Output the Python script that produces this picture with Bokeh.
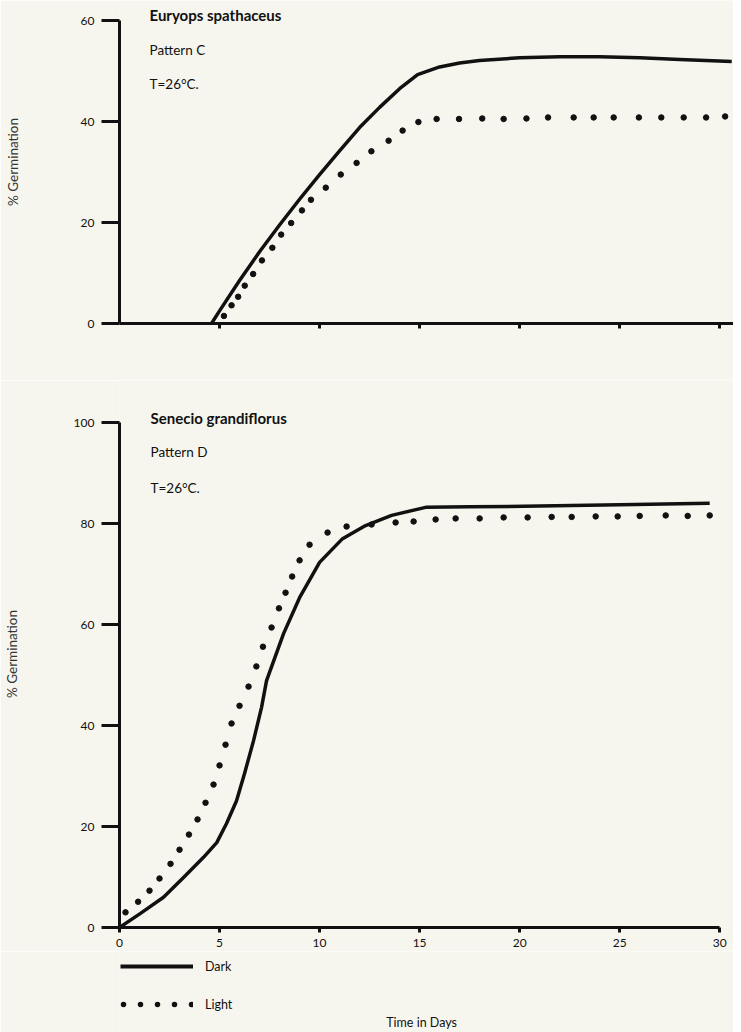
from bokeh.plotting import figure
from bokeh.models import Label, Legend, LegendItem, FixedTicker, Range1d
from bokeh.layouts import column
from bokeh.embed import file_html
from bokeh.resources import INLINE

# ---------------- data ----------------
# Top panel: Euryops spathaceus, Pattern C
top_dark_days = [4.6, 5.0, 6.0, 7.0, 8.0, 9.0, 10.0, 11.0, 12.0, 13.0, 14.0, 14.9,
                 16.0, 17.0, 18.0, 20.0, 22.0, 24.0, 26.0, 28.0, 30.6]
top_dark_pct = [0, 2.5, 8.5, 14.2, 19.5, 24.6, 29.5, 34.2, 38.8, 42.8, 46.5, 49.3,
                50.8, 51.6, 52.1, 52.6, 52.8, 52.8, 52.6, 52.3, 51.9]

top_light_days = [5.22, 5.6, 5.93, 6.26, 6.68, 7.12, 7.64, 8.08, 8.58, 9.12, 9.57, 10.31,
                  11.06, 11.85, 12.59, 13.45, 14.15, 14.94, 15.85, 16.97, 18.13, 19.2,
                  20.34, 21.42, 22.7, 23.7, 24.7, 25.96, 27.08, 28.2, 29.32, 30.27]
top_light_pct = [1.5, 3.6, 5.3, 7.5, 9.8, 12.5, 15.0, 17.6, 19.9, 22.4, 24.5, 26.9,
                 29.5, 31.8, 34.1, 36.2, 38.2, 39.9, 40.5, 40.5, 40.6, 40.5,
                 40.6, 40.8, 40.8, 40.8, 40.8, 40.8, 40.8, 40.8, 40.8, 41.0]

# Bottom panel: Senecio grandiflorus, Pattern D
bot_dark_days = [0, 1.05, 2.2, 3.2, 4.2, 4.86, 5.35, 5.85, 6.25, 6.7, 7.1, 7.35, 8.2,
                 9.0, 10.0, 11.15, 12.3, 13.6, 15.3, 17.5, 20.2, 25.0, 29.5]
bot_dark_pct = [0, 2.8, 6.0, 9.9, 13.9, 16.8, 20.6, 25.1, 30.5, 37.0, 43.6, 48.9, 58.2,
                65.3, 72.3, 77.0, 79.6, 81.6, 83.2, 83.3, 83.4, 83.7, 84.0]

bot_light_days = [0.3, 0.93, 1.5, 2.0, 2.55, 3.0, 3.47, 3.9, 4.3, 4.7, 5.0, 5.3, 5.6,
                  6.0, 6.45, 6.84, 7.17, 7.6, 7.97, 8.3, 8.63, 9.0, 9.5, 10.4, 11.35,
                  12.6, 13.8, 14.7, 15.8, 16.8, 18.0, 19.2, 20.4, 21.6, 22.6, 23.8,
                  24.9, 26.0, 27.3, 28.4, 29.5]
bot_light_pct = [3.0, 5.1, 7.3, 9.7, 12.6, 15.4, 18.4, 21.4, 24.7, 28.3, 32.1, 36.2, 40.4,
                 43.9, 47.7, 51.7, 55.6, 59.4, 63.2, 66.3, 69.5, 72.7, 75.8, 78.2, 79.4,
                 79.8, 80.2, 80.4, 80.8, 81.0, 81.0, 81.2, 81.2, 81.3, 81.3, 81.4,
                 81.4, 81.5, 81.6, 81.5, 81.6]

top_yticks = [0, 20, 40, 60]
bot_yticks = [0, 20, 40, 60, 80, 100]
xticks = [0, 5, 10, 15, 20, 25, 30]

top_texts = ["Euryops spathaceus", "Pattern C", "T=26°C."]
bot_texts = ["Senecio grandiflorus", "Pattern D", "T=26°C."]
legend_labels = ["Dark", "Light"]
y_label = "% Germination"
x_label = "Time in Days"

# ---------------- style ----------------
BG = "#f6f6ee"
INK = "#111111"
FONT = "Lato"
PX_PER_DAY = 20.17
PX_PER_PCT = 5.05
LEFT = 114
FULL_W = 733
XMAX = (FULL_W - LEFT) / PX_PER_DAY   # shared frame width for all panels


def style(p, yticks, ybounds, xbounds, show_xlabels, label_standoff):
    p.outline_line_color = None
    p.xgrid.grid_line_color = None
    p.ygrid.grid_line_color = None
    for ax in (p.xaxis[0], p.yaxis[0]):
        ax.axis_line_width = 3
        ax.axis_line_color = INK
        ax.major_tick_line_width = 3
        ax.major_tick_line_color = INK
        ax.minor_tick_line_color = None
        ax.major_tick_in = 0
        ax.major_label_text_font = FONT
        ax.major_label_text_font_size = "12px"
        ax.major_label_text_color = INK
    ya = p.yaxis[0]
    ya.ticker = FixedTicker(ticks=yticks)
    ya.bounds = ybounds
    ya.major_tick_out = 18
    ya.major_label_standoff = 7
    ya.axis_label = y_label
    ya.axis_label_text_font = FONT
    ya.axis_label_text_font_size = "13.5px"
    ya.axis_label_text_font_style = "normal"
    ya.axis_label_text_color = "#333333"
    ya.axis_label_standoff = label_standoff
    xa = p.xaxis[0]
    xa.bounds = xbounds
    xa.major_tick_out = 5
    xa.major_label_standoff = 6
    if show_xlabels:
        xa.ticker = FixedTicker(ticks=xticks)
    else:
        xa.ticker = FixedTicker(ticks=xticks[1:])
        xa.major_label_overrides = {t: "" for t in xticks}


def add_texts(p, x, ys, texts):
    for i, (yy, t) in enumerate(zip(ys, texts)):
        p.add_layout(Label(x=x, y=yy, text=t, text_font=FONT,
                           text_font_size="15px" if i == 0 else "13.5px",
                           text_font_style="bold" if i == 0 else "normal",
                           text_color=INK, text_baseline="middle", text_align="left"))


def base_fig(h, bottom, ymax, **kw):
    return figure(width=FULL_W, height=h, x_range=Range1d(0, XMAX),
                  y_range=Range1d(0, ymax), output_backend="svg", toolbar_location=None,
                  min_border_left=LEFT, min_border_right=0, min_border_top=0,
                  min_border_bottom=bottom, background_fill_color=BG,
                  border_fill_color=BG, **kw)


# ---------------- top chart ----------------
H1, B1 = 380, 57
p1 = base_fig(H1, B1, (H1 - B1) / PX_PER_PCT)
style(p1, top_yticks, (0, 60), (0, XMAX), False, 57)
p1.line(top_dark_days, top_dark_pct, line_width=3.5, color=INK, line_join="round")
p1.scatter(top_light_days, top_light_pct, size=5.5, color=INK)
add_texts(p1, 1.5, [61.0, 54.1, 47.5], top_texts)

# ---------------- bottom chart ----------------
H2, B2 = 571, 24
p2 = base_fig(H2, B2, (H2 - B2) / PX_PER_PCT)
style(p2, bot_yticks, (0, 100), (0, 30), True, 51)
p2.line(bot_dark_days, bot_dark_pct, line_width=3.5, color=INK, line_join="round")
p2.scatter(bot_light_days, bot_light_pct, size=5.5, color=INK)
add_texts(p2, 1.55, [100.8, 94.1, 87.1], bot_texts)

# ---------------- legend + x label strip ----------------
H3 = 1032 - H1 - H2
p3 = base_fig(H3, 0, H3, x_axis_location=None, y_axis_location=None)
p3.outline_line_color = None
p3.grid.grid_line_color = None
dark_proxy = p3.line(x=[-100.0, -99.0], y=[-100.0, -100.0], line_width=4, color=INK)
light_proxy = p3.line(x=[-100.0, -99.0], y=[-100.0, -100.0], line_dash="0 17",
                      line_dash_offset=14, line_cap="round", line_width=5.5, color=INK)
legend = Legend(items=[LegendItem(label=legend_labels[0], renderers=[dark_proxy]),
                       LegendItem(label=legend_labels[1], renderers=[light_proxy])],
                location=(1, 18), orientation="vertical",
                glyph_width=73, glyph_height=20, label_height=20, spacing=18,
                label_standoff=12, padding=0, margin=0,
                border_line_color=None, background_fill_alpha=0,
                label_text_font=FONT, label_text_font_size="12.5px", label_text_color=INK)
p3.add_layout(legend, "center")
p3.add_layout(Label(x=15.1, y=10, text=x_label, text_font=FONT, text_font_size="12.5px",
                    text_color=INK, text_align="center", text_baseline="middle"))

layout = column(p1, p2, p3, spacing=0)
open("out.html", "w").write(file_html(layout, INLINE))
